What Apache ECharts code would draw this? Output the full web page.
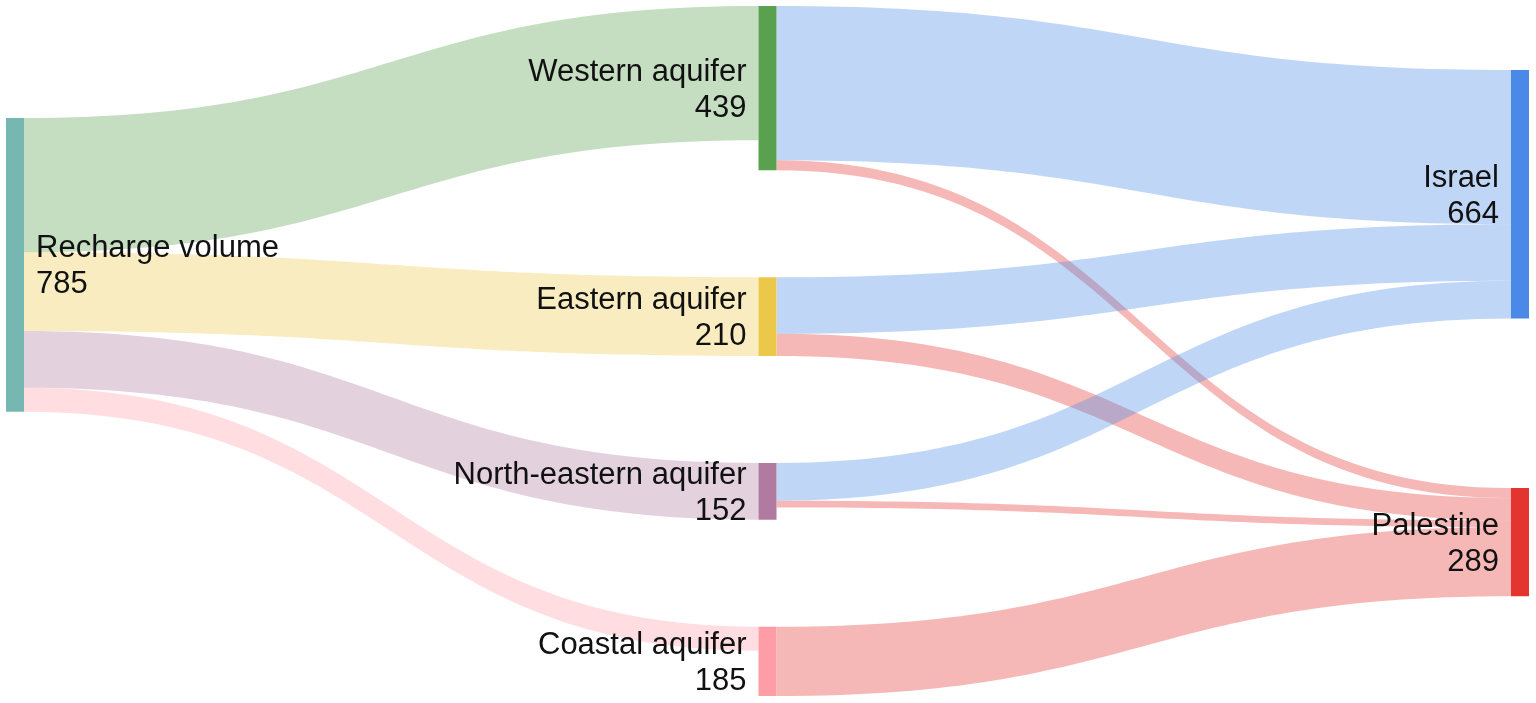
<!DOCTYPE html>
<html>
<head>
<meta charset="utf-8">
<script src="https://cdn.jsdelivr.net/npm/echarts@6/dist/echarts.min.js"></script>
<style>
html,body{margin:0;padding:0;background:#fff;}
#chart{width:1536px;height:703px;}
</style>
</head>
<body>
<div id="chart"></div>
<script>
// Nodes
const nodeNames = ['Recharge volume','Western aquifer','Eastern aquifer','North-eastern aquifer','Coastal aquifer','Israel','Palestine'];
const nodeValues = [785, 439, 210, 152, 185, 664, 289];
// Links
const linkSources = ['Recharge volume','Recharge volume','Recharge volume','Recharge volume',
  'Western aquifer','Western aquifer','Eastern aquifer','Eastern aquifer',
  'North-eastern aquifer','North-eastern aquifer','Coastal aquifer'];
const linkTargets = ['Western aquifer','Eastern aquifer','North-eastern aquifer','Coastal aquifer',
  'Israel','Palestine','Israel','Palestine','Israel','Palestine','Palestine'];
const linkValues = [359, 210, 152, 64, 412, 27, 151, 59, 101, 18, 185];

// Styling / layout (not data)
const nodeColors = ['#76b7b2','#59a14f','#ecc84a','#b07aa1','#ff9da7','#4a89e8','#e3342f'];
const labelSide = ['right','left','left','left','left','left','left'];
// vertical placement of the outer-column nodes, as a fraction of the layout height
const nodeTopFraction = [0.1623, null, null, null, null, 0.0928, 0.6986];

const data = nodeNames.map((n, i) => {
  const d = {
    name: n,
    value: nodeValues[i],
    itemStyle: { color: nodeColors[i] },
    label: { position: labelSide[i] }
  };
  if (nodeTopFraction[i] != null) d.localY = nodeTopFraction[i];
  return d;
});
const links = linkSources.map((s, i) => ({ source: s, target: linkTargets[i], value: linkValues[i] }));

const chart = echarts.init(document.getElementById('chart'));
chart.setOption({
  backgroundColor: '#ffffff',
  animation: false,
  series: [{
    type: 'sankey',
    left: 6, right: 7, top: 6, bottom: 7,
    nodeWidth: 18,
    nodeGap: 107,
    layoutIterations: 0,
    draggable: false,
    emphasis: { disabled: true },
    data: data,
    links: links,
    itemStyle: { borderWidth: 0 },
    lineStyle: { color: 'target', opacity: 0.35, curveness: 0.5 },
    label: {
      show: true,
      distance: 12,
      offset: [0, 2],
      fontFamily: 'Liberation Sans, Arial, sans-serif',
      fontSize: 31,
      lineHeight: 36,
      color: '#111',
      formatter: p => p.name + '\n' + p.value
    }
  }]
});
</script>
</body>
</html>
